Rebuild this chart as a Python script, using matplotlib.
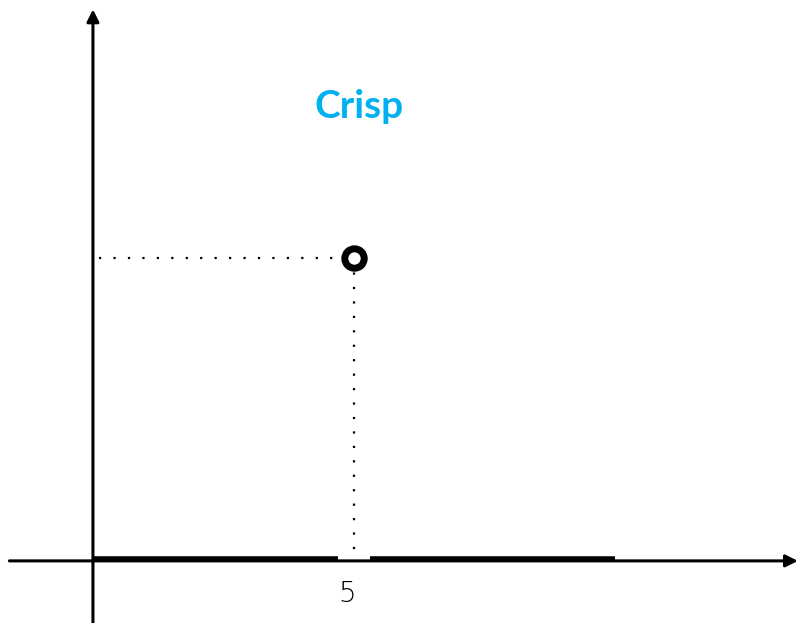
import matplotlib
matplotlib.use("Agg")
import matplotlib.pyplot as plt

# crisp value: membership 1 only at x = 5, 0 elsewhere on [0, 10]
universe = [0, 10]
crisp_x = 5
crisp_mu = 1
gap = 0.3  # half width of the hole under the crisp point
tick_labels = ["5"]
title = "Crisp"

fig = plt.figure(figsize=(8, 6.23), dpi=100)
ax = fig.add_axes([0, 0, 1, 1])
ax.set_xlim(-1.78, 13.54)
ax.set_ylim(-0.205, 1.851)
ax.axis("off")

# axes with arrow heads
arrow = dict(arrowstyle="-|>", lw=2.2, color="black", mutation_scale=18,
             shrinkA=0, shrinkB=0)
ax.annotate("", xy=(13.5, 0), xytext=(-1.6, 0), arrowprops=arrow,
            annotation_clip=False)
ax.annotate("", xy=(0, 1.82), xytext=(0, -0.21), arrowprops=arrow,
            annotation_clip=False)

# zero membership everywhere except at the crisp point
ax.plot([universe[0], crisp_x - gap], [0.007, 0.007], color="black", lw=4,
        solid_capstyle="butt")
ax.plot([crisp_x + gap, universe[1]], [0.007, 0.007], color="black", lw=4,
        solid_capstyle="butt")

# dotted guides
dots = (0, (1, 5.5))
ax.plot([0.12, crisp_x], [crisp_mu, crisp_mu], color="black", lw=1.6,
        linestyle=dots)
ax.plot([crisp_x, crisp_x], [crisp_mu, 0.01], color="black", lw=1.6,
        linestyle=dots)

ax.plot([crisp_x], [crisp_mu], marker="o", markersize=14,
        markerfacecolor="white", markeredgecolor="black",
        markeredgewidth=5)

ax.text(crisp_x - 0.13, -0.11, tick_labels[0], ha="center", va="center",
        fontsize=20, family="DejaVu Sans", fontweight="light")

ax.text(5.1, 1.5, title, ha="center", va="center", fontsize=28,
        fontweight="bold", family="Lato", color="#00B0F0")

fig.savefig("out.png", dpi=100)
